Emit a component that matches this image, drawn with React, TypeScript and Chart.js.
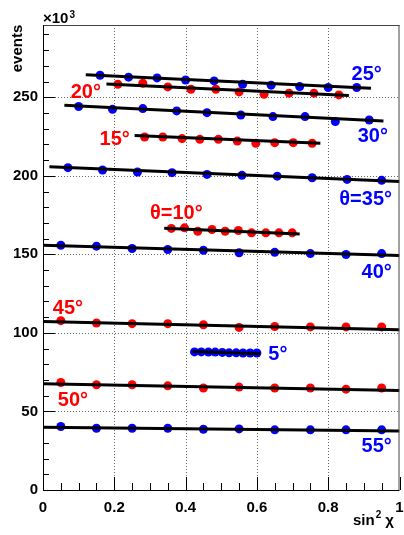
import React, { useEffect, useRef } from "react";
import { Chart, registerables } from "chart.js";

Chart.register(...registerables);

// ---- data ----
const x25 = [0.16, 0.24, 0.32, 0.40, 0.48, 0.56, 0.64, 0.72, 0.80, 0.88];
const y25 = [264.0, 262.8, 262.3, 261.0, 260.4, 258.3, 257.7, 256.8, 256.2, 256.2];
const fit25 = [[0.12, 264.3], [0.92, 255.8]];

const x20 = [0.21, 0.28, 0.35, 0.415, 0.485, 0.55, 0.62, 0.69, 0.76, 0.83];
const y20 = [258.3, 258.9, 256.6, 255.1, 255.1, 253.4, 251.9, 252.6, 252.6, 251.5];
const fit20 = [[0.178, 258.5], [0.858, 251.1]];

const x30 = [0.10, 0.195, 0.28, 0.375, 0.46, 0.555, 0.645, 0.735, 0.82, 0.915];
const y30 = [244.1, 242.3, 242.8, 241.3, 240.2, 238.7, 237.7, 237.7, 234.5, 235.5];
const fit30 = [[0.06, 244.9], [0.955, 234.9]];

const x15 = [0.285, 0.336, 0.39, 0.44, 0.492, 0.545, 0.597, 0.65, 0.702, 0.755];
const y15 = [224.7, 224.7, 223.7, 223.2, 223.2, 222.1, 220.7, 221.1, 221.1, 220.7];
const fit15 = [[0.257, 225.6], [0.778, 220.7]];

const x35 = [0.07, 0.167, 0.265, 0.362, 0.46, 0.558, 0.657, 0.755, 0.853, 0.95];
const y35 = [205.2, 203.7, 202.4, 202.0, 200.9, 200.3, 199.8, 198.8, 197.7, 197.1];
const fit35 = [[0.018, 205.8], [1.0, 196.4]];

const x10 = [0.36, 0.397, 0.434, 0.474, 0.511, 0.548, 0.585, 0.625, 0.662, 0.699];
const y10 = [166.5, 166.9, 164.7, 165.8, 164.7, 165.2, 163.7, 163.7, 163.7, 163.7];
const fit10 = [[0.34, 166.6], [0.72, 163.0]];

const x40 = [0.05, 0.15, 0.25, 0.35, 0.45, 0.55, 0.65, 0.75, 0.85, 0.95];
const y40 = [155.8, 155.2, 153.7, 153.1, 152.6, 151.0, 151.3, 150.5, 149.9, 150.5];
const fit40 = [[0.0, 155.8], [1.0, 149.2]];

const x45 = [0.05, 0.15, 0.25, 0.35, 0.45, 0.55, 0.65, 0.75, 0.85, 0.95];
const y45 = [107.8, 106.3, 105.9, 105.9, 105.2, 103.5, 104.1, 103.8, 103.8, 103.8];
const fit45 = [[0.0, 107.3], [1.0, 102.0]];

const x5 = [0.425, 0.444, 0.464, 0.483, 0.503, 0.522, 0.542, 0.561, 0.581, 0.60];
const y5 = [87.9, 87.9, 87.8, 87.8, 87.6, 87.3, 87.3, 87.2, 87.2, 87.2];
const fit5 = [[0.42, 88.1], [0.61, 86.8]];

const x50 = [0.05, 0.15, 0.25, 0.35, 0.45, 0.55, 0.65, 0.75, 0.85, 0.95];
const y50 = [68.4, 67.0, 67.0, 66.3, 64.9, 65.5, 64.9, 64.9, 64.2, 64.9];
const fit50 = [[0.0, 67.6], [1.0, 63.3]];

const x55 = [0.05, 0.15, 0.25, 0.35, 0.45, 0.55, 0.65, 0.75, 0.85, 0.95];
const y55 = [40.4, 39.3, 39.3, 39.3, 38.7, 38.9, 38.3, 38.3, 38.3, 38.3];
const fit55 = [[0.0, 40.0], [1.0, 37.6]];

// series label annotations (text, anchor in data coordinates)
const labelTexts = ["25°", "20°", "30°", "15°", "θ=35°", "θ=10°", "40°", "45°", "5°", "50°", "55°"];
const labelXs = [0.908, 0.120, 0.925, 0.201, 0.905, 0.374, 0.936, 0.070, 0.659, 0.084, 0.936];
const labelYs = [265.3, 253.8, 225.8, 223.9, 185.6, 176.7, 139.0, 116.1, 86.7, 57.4, 28.1];

const X_MIN = 0;
const X_MAX = 1;
const Y_MIN = 0;
const Y_MAX = 296;

const BLUE = "#0000ff";
const RED = "#ff0000";
const FONT = "'Liberation Sans', Arial, Helvetica, sans-serif";

const series = [
  { x: x25, y: y25, fit: fit25, color: BLUE },
  { x: x20, y: y20, fit: fit20, color: RED },
  { x: x30, y: y30, fit: fit30, color: BLUE },
  { x: x15, y: y15, fit: fit15, color: RED },
  { x: x35, y: y35, fit: fit35, color: BLUE },
  { x: x10, y: y10, fit: fit10, color: RED },
  { x: x40, y: y40, fit: fit40, color: BLUE },
  { x: x45, y: y45, fit: fit45, color: RED },
  { x: x5, y: y5, fit: fit5, color: BLUE },
  { x: x50, y: y50, fit: fit50, color: RED },
  { x: x55, y: y55, fit: fit55, color: BLUE },
];
const labelColors = [BLUE, RED, BLUE, RED, BLUE, RED, BLUE, RED, BLUE, RED, BLUE];

const rootPlugin = {
  id: "rootStyle",
  beforeDatasetsDraw(chart: any) {
    const { ctx, chartArea: a, scales } = chart;
    const xs = scales.x;
    const ys = scales.y;
    ctx.save();
    ctx.strokeStyle = "#666";
    ctx.lineWidth = 1;
    ctx.setLineDash([1, 2]);
    for (const t of xs.ticks) {
      if (t.value <= X_MIN || t.value >= X_MAX) continue;
      const px = Math.round(xs.getPixelForValue(t.value)) + 0.5;
      ctx.beginPath();
      ctx.moveTo(px, a.top);
      ctx.lineTo(px, a.bottom);
      ctx.stroke();
    }
    for (const t of ys.ticks) {
      if (t.value <= Y_MIN || t.value >= Y_MAX) continue;
      const py = Math.round(ys.getPixelForValue(t.value)) + 0.5;
      ctx.beginPath();
      ctx.moveTo(a.left, py);
      ctx.lineTo(a.right, py);
      ctx.stroke();
    }
    ctx.restore();
  },
  afterDatasetsDraw(chart: any) {
    const { ctx, chartArea: a, scales } = chart;
    const xs = scales.x;
    const ys = scales.y;
    ctx.save();
    // frame
    ctx.setLineDash([]);
    ctx.lineWidth = 1;
    ctx.strokeStyle = "#444";
    ctx.beginPath();
    ctx.moveTo(a.left, a.top + 0.5);
    ctx.lineTo(a.right, a.top + 0.5);
    ctx.moveTo(a.right - 0.5, a.top);
    ctx.lineTo(a.right - 0.5, a.bottom);
    ctx.stroke();
    ctx.strokeStyle = "#000";
    ctx.beginPath();
    ctx.moveTo(a.left + 0.5, a.top);
    ctx.lineTo(a.left + 0.5, a.bottom + 0.5);
    ctx.lineTo(a.right, a.bottom + 0.5);
    ctx.stroke();
    // y ticks (inside)
    ctx.strokeStyle = "#000";
    ctx.beginPath();
    for (let v = Y_MIN; v <= Y_MAX + 1e-9; v += 10) {
      const py = Math.round(ys.getPixelForValue(v)) + 0.5;
      const major = Math.abs(v % 50) < 1e-6;
      ctx.moveTo(a.left, py);
      ctx.lineTo(a.left + (major ? 12 : 6), py);
    }
    // x ticks (inside)
    for (let i = 0; i <= 20; i++) {
      const v = X_MIN + i * 0.05;
      const px = Math.round(xs.getPixelForValue(v)) + 0.5;
      const major = i % 4 === 0;
      ctx.moveTo(px, a.bottom);
      ctx.lineTo(px, a.bottom - (major ? 13 : 7));
    }
    ctx.stroke();

    // series labels
    ctx.textAlign = "center";
    ctx.textBaseline = "middle";
    ctx.font = `bold 20px ${FONT}`;
    for (let i = 0; i < labelTexts.length; i++) {
      ctx.fillStyle = labelColors[i];
      ctx.fillText(labelTexts[i], xs.getPixelForValue(labelXs[i]), ys.getPixelForValue(labelYs[i]) + 1);
    }

    // axis titles
    ctx.fillStyle = "#000";
    ctx.textBaseline = "alphabetic";
    // x10^3
    ctx.textAlign = "left";
    ctx.font = `bold 15px ${FONT}`;
    const base = "×10";
    ctx.fillText(base, a.left, 23);
    const w = ctx.measureText(base).width;
    ctx.font = `bold 10px ${FONT}`;
    ctx.fillText("3", a.left + w + 1, 18);
    // events
    ctx.save();
    ctx.translate(22, 48.5);
    ctx.rotate(-Math.PI / 2);
    ctx.textAlign = "center";
    ctx.font = `bold 15px ${FONT}`;
    ctx.fillText("events", 0, 0);
    ctx.restore();
    // sin^2 chi
    ctx.textAlign = "left";
    ctx.font = `bold 15px ${FONT}`;
    let cx = 353;
    ctx.fillText("sin", cx, 525);
    cx += ctx.measureText("sin").width + 1;
    ctx.font = `bold 10px ${FONT}`;
    ctx.fillText("2", cx, 518);
    cx += ctx.measureText("2").width + 4;
    ctx.font = `bold 15px ${FONT}`;
    ctx.fillText("χ", cx, 525);
    ctx.restore();
  },
};

export default function App() {
  const ref = useRef<HTMLCanvasElement | null>(null);
  useEffect(() => {
    if (!ref.current) return;
    const datasets: any[] = [];
    series.forEach((s) => {
      datasets.push({
        type: "line",
        data: s.fit.map((p) => ({ x: p[0], y: p[1] })),
        borderColor: "#000",
        borderWidth: 3,
        pointRadius: 0,
        showLine: true,
        fill: false,
        order: 0,
      });
      datasets.push({
        type: "scatter",
        data: s.x.map((xv, i) => ({ x: xv, y: s.y[i] })),
        backgroundColor: s.color,
        borderColor: s.color,
        borderWidth: 0,
        pointRadius: 4.5,
        order: 1,
      });
    });
    const chart = new Chart(ref.current, {
      type: "scatter",
      data: { datasets },
      options: {
        animation: false,
        responsive: false,
        maintainAspectRatio: false,
        layout: { padding: { top: 25, right: 3, left: 0, bottom: 0 } },
        plugins: { legend: { display: false }, tooltip: { enabled: false } },
        scales: {
          x: {
            type: "linear",
            min: X_MIN,
            max: X_MAX,
            grid: { display: false, drawTicks: false },
            border: { display: false },
            ticks: {
              stepSize: 0.2,
              includeBounds: false,
              padding: 9,
              color: "#000",
              font: { family: FONT, size: 15, weight: "bold" },
              maxRotation: 0,
              autoSkip: false,
              callback: (v: any) => String(Number(Number(v).toFixed(1))),
            },
            afterFit: (sc: any) => {
              sc.height = 45;
              sc.paddingLeft = 0;
              sc.paddingRight = 0;
            },
          },
          y: {
            type: "linear",
            min: Y_MIN,
            max: Y_MAX,
            grid: { display: false, drawTicks: false },
            border: { display: false },
            ticks: {
              stepSize: 50,
              includeBounds: false,
              padding: 5,
              color: "#000",
              font: { family: FONT, size: 15, weight: "bold" },
              autoSkip: false,
              callback: (v: any) => String(v),
            },
            afterFit: (sc: any) => {
              sc.width = 43;
              sc.paddingTop = 0;
              sc.paddingBottom = 0;
            },
          },
        },
      },
      plugins: [rootPlugin],
    });
    return () => chart.destroy();
  }, []);
  return (
    <div style={{ position: "fixed", left: 0, top: 0, width: 404, height: 535, background: "#fff" }}>
      <canvas ref={ref} width={404} height={535} style={{ width: 404, height: 535, display: "block" }} />
    </div>
  );
}
